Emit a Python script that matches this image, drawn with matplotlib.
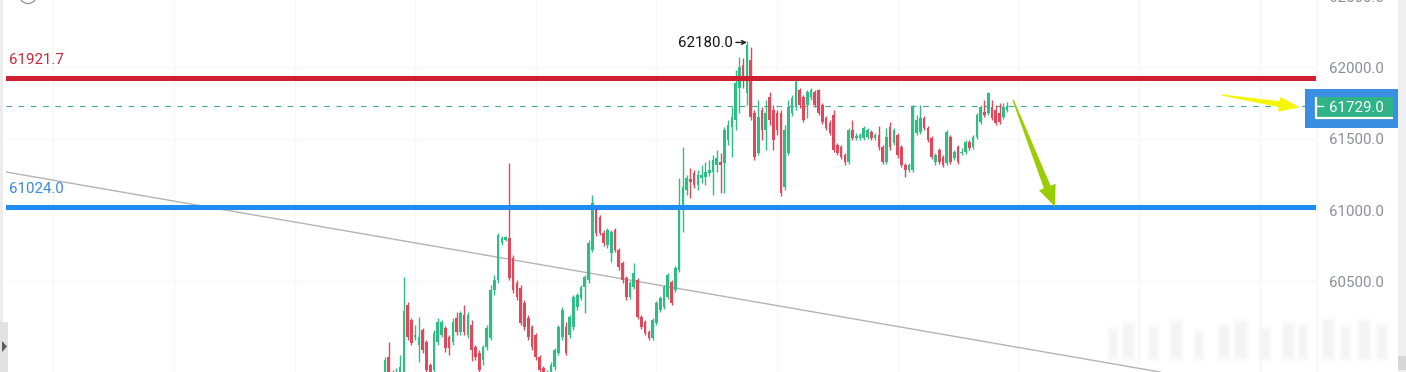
import numpy as np
import matplotlib
matplotlib.use("Agg")
import matplotlib.pyplot as plt
from matplotlib.patches import Rectangle, Polygon, Circle

plt.rcParams['font.family'] = ['Roboto', 'DejaVu Sans']

# ---------------- data (15m candles) ----------------
opens = [59866, 59971, 59845, 59775, 59810, 59866, 60335, 60230, 60111, 60055,
         60160, 60076, 59915, 59880, 60076, 60125, 60174, 60111, 60076, 60244,
         60146, 60265, 60125, 60195, 60041, 59999, 59950, 60041, 60104, 60440,
         60510, 60769, 60790, 60804, 60664, 60489, 60454, 60349, 60244, 60181,
         60125, 59971, 59894, 59796, 59866, 59901, 59999, 60111, 60181, 60125,
         60181, 60321, 60384, 60461, 60510, 60720, 61014, 60951, 60839, 60755,
         60699, 60860, 60720, 60629, 60524, 60391, 60461, 60510, 60251, 60216,
         60146, 60104, 60209, 60300, 60321, 60391, 60496, 60440, 60580, 61035,
         61140, 61217, 61259, 61175, 61224, 61231, 61259, 61266, 61315, 61336,
         61329, 61490, 61581, 61630, 61854, 62015, 61819, 62050, 61679, 61399,
         61700, 61560, 61791, 61700, 61679, 61679, 61161, 61399, 61679, 61721,
         61840, 61791, 61735, 61791, 61826, 61840, 61735, 61644, 61609, 61665,
         61455, 61441, 61385, 61336, 61560, 61504, 61504, 61504, 61511, 61546,
         61504, 61525, 61441, 61336, 61581, 61469, 61525, 61441, 61315, 61280,
         61280, 61539, 61546, 61644, 61574, 61504, 61336, 61420, 61371, 61329,
         61511, 61364, 61441, 61399, 61406, 61476, 61441, 61511, 61616, 61686,
         61679, 61721, 61700, 61679, 61651, 61700]
highs = [59971, 60076, 59880, 59894, 59985, 60531, 60356, 60244, 60195, 60251,
         60174, 60090, 59929, 60160, 60244, 60230, 60188, 60125, 60244, 60286,
         60293, 60335, 60286, 60230, 60055, 60020, 60055, 60195, 60475, 60545,
         60839, 60818, 60818, 61329, 60685, 60510, 60475, 60370, 60265, 60195,
         60139, 59985, 59908, 59880, 59936, 60034, 60195, 60321, 60216, 60265,
         60405, 60419, 60475, 60545, 60790, 61105, 61035, 60965, 60860, 60874,
         60860, 60874, 60734, 60643, 60538, 60503, 60629, 60524, 60265, 60230,
         60160, 60244, 60363, 60398, 60475, 60559, 60510, 60608, 61224, 61441,
         61245, 61294, 61280, 61280, 61315, 61336, 61350, 61385, 61420, 61399,
         61581, 61630, 61721, 61980, 62071, 62064, 62180, 62141, 61700, 61770,
         61721, 61770, 61826, 61735, 61700, 61700, 61595, 61770, 61805, 61910,
         61854, 61805, 61840, 61854, 61840, 61847, 61749, 61658, 61630, 61700,
         61469, 61455, 61399, 61574, 61630, 61539, 61539, 61588, 61574, 61560,
         61539, 61588, 61455, 61574, 61616, 61574, 61539, 61455, 61329, 61329,
         61735, 61665, 61735, 61658, 61588, 61518, 61399, 61434, 61385, 61560,
         61525, 61420, 61455, 61434, 61490, 61490, 61525, 61679, 61735, 61770,
         61826, 61770, 61735, 61749, 61749, 61756]
lows = [59838, 59810, 59740, 59740, 59775, 59810, 60090, 60055, 60090, 59936,
        59999, 59866, 59810, 59866, 60055, 60111, 60006, 59985, 60055, 60125,
        60125, 60125, 60104, 59943, 59950, 59866, 59915, 60020, 60090, 60405,
        60489, 60755, 60783, 60510, 60419, 60370, 60195, 60160, 60090, 60020,
        59950, 59859, 59775, 59775, 59838, 59880, 59985, 60090, 59985, 60104,
        60160, 60300, 60370, 60279, 60489, 60706, 60818, 60825, 60748, 60734,
        60636, 60706, 60580, 60489, 60370, 60377, 60447, 60237, 60167, 60125,
        60090, 60090, 60195, 60286, 60307, 60377, 60335, 60426, 60566, 60846,
        61105, 61084, 61154, 61140, 61189, 61175, 61238, 61105, 61266, 61119,
        61119, 61455, 61371, 61560, 61679, 61854, 61735, 61630, 61350, 61385,
        61490, 61420, 61595, 61420, 61525, 61098, 61140, 61385, 61658, 61700,
        61714, 61616, 61644, 61770, 61721, 61665, 61602, 61560, 61525, 61406,
        61385, 61357, 61315, 61322, 61490, 61490, 61490, 61490, 61497, 61490,
        61490, 61420, 61322, 61322, 61420, 61455, 61364, 61301, 61231, 61266,
        61266, 61525, 61532, 61560, 61476, 61357, 61315, 61322, 61301, 61315,
        61322, 61350, 61322, 61385, 61392, 61420, 61427, 61497, 61602, 61651,
        61665, 61630, 61595, 61602, 61637, 61686]
closes = [59950, 59845, 59810, 59866, 59901, 60293, 60111, 60069, 60125, 60111,
          60020, 59880, 59845, 60139, 60216, 60216, 60034, 60034, 60216, 60146,
          60279, 60146, 60265, 60020, 59971, 59880, 60041, 60174, 60440, 60510,
          60825, 60804, 60811, 60524, 60440, 60391, 60209, 60181, 60111, 60041,
          59971, 59880, 59810, 59852, 59915, 60020, 60181, 60300, 59999, 60251,
          60391, 60405, 60461, 60531, 60769, 61049, 60839, 60839, 60769, 60860,
          60846, 60720, 60601, 60510, 60391, 60489, 60559, 60251, 60181, 60139,
          60104, 60230, 60349, 60384, 60461, 60545, 60349, 60594, 61035, 61161,
          61224, 61196, 61175, 61245, 61245, 61266, 61280, 61350, 61364, 61315,
          61560, 61595, 61651, 61889, 62001, 61910, 62155, 61651, 61371, 61651,
          61560, 61679, 61630, 61490, 61560, 61119, 61560, 61721, 61784, 61896,
          61735, 61630, 61826, 61840, 61735, 61679, 61616, 61574, 61539, 61420,
          61399, 61371, 61336, 61560, 61504, 61518, 61525, 61574, 61560, 61504,
          61525, 61441, 61336, 61511, 61441, 61560, 61385, 61315, 61280, 61315,
          61721, 61630, 61644, 61574, 61490, 61371, 61385, 61336, 61315, 61546,
          61336, 61406, 61336, 61406, 61476, 61434, 61511, 61665, 61721, 61665,
          61819, 61644, 61609, 61616, 61721, 61729]

resistance_level = 61921.7
support_level = 61024.0
last_price = 61729.0
peak_price = 62180.0
peak_index = 96
ytick_values = [60500, 61000, 61500, 62000]
ytick_labels = ['60500.0', '61000.0', '61500.0', '62000.0']
time_grid_idx = [-88, -56, -24, 8, 40, 72, 104, 136, 168, 200, 232]
trend_x = [-100.5, 205.6]
trend_y = [61266, 59866]
target_arrow_x = [166.6, 177.7]
target_arrow_y = [61770, 61024]

UP = '#2ebd85'
DOWN = '#e0495b'

W, H = 1406, 372
fig = plt.figure(figsize=(W / 100, H / 100), dpi=100)
fig.patch.set_facecolor('white')

ax = fig.add_axes([6 / W, 0, 1310 / W, 1])
ax.set_xlim(-100.53, 246.95)
ax.set_ylim(59866, 62470)
for s in ax.spines.values():
    s.set_visible(False)
ax.set_xticks(time_grid_idx)
ax.tick_params(axis='x', length=0, labelbottom=False)
ax.set_yticks(ytick_values, ytick_labels)
ax.yaxis.tick_right()
ax.tick_params(axis='y', length=0, pad=9.5, labelsize=10.8, labelcolor='#8a909a',
               right=False, left=False, labelright=True, labelleft=False)
ax.grid(True, color='#f7f7f8', lw=1, zorder=0)

idx = np.arange(len(opens))
o = np.array(opens, float)
c = np.array(closes, float)
h = np.array(highs, float)
l = np.array(lows, float)
cols = [UP if cc >= oo else DOWN for oo, cc in zip(o, c)]
ax.vlines(idx, l, h, colors=cols, lw=1.0, zorder=3)
ax.bar(idx, np.maximum(np.abs(c - o), 4), bottom=np.minimum(o, c), width=0.7,
       color=cols, lw=0, zorder=3)

# trend line
ax.plot(trend_x, trend_y, color='#b4b4b4', lw=1.0, zorder=2)
# levels
ax.axhline(resistance_level, color='#cf1f30', lw=3.6, zorder=4)
ax.axhline(support_level, color='#1e8cf0', lw=3.6, zorder=4)
ax.axhline(last_price, color='#45a596', lw=0.8, ls=(0, (5, 6)), zorder=2)

# overlay in pixel coordinates for annotations / chrome
ov = fig.add_axes([0, 0, 1, 1], zorder=5)
ov.set_xlim(0, W)
ov.set_ylim(H, 0)
ov.axis('off')
ov.patch.set_alpha(0)

def to_px(x, y):
    d = ax.transData.transform((x, y))
    return ov.transData.inverted().transform(d)

# level labels
ov.text(8.5, 64, f'{resistance_level:.1f}', color='#c8283a', fontsize=10.8, va='baseline', ha='left')
ov.text(8.5, 192.7, f'{support_level:.1f}', color='#3a89dc', fontsize=10.8, va='baseline', ha='left')

# peak annotation
px, py = to_px(peak_index, peak_price)
ov.text(px - 69, py + 5.5, f'{peak_price:.1f}', color='#151515', fontsize=10.8, va='baseline', ha='left')
ov.annotate('', xy=(px, py + 1), xytext=(px - 11, py + 1),
            arrowprops=dict(arrowstyle='->', color='#222222', lw=1.0, shrinkA=0, shrinkB=0,
                            mutation_scale=7))

def taper_arrow(p0, p1, w0, w1, hw, hl, color):
    p0 = np.array(p0, float); p1 = np.array(p1, float)
    d = p1 - p0
    L = np.hypot(*d)
    u = d / L
    n = np.array([-u[1], u[0]])
    b = p1 - hl * u
    pts = [p0 + w0 * n, b + w1 * n, b + hw * n, p1, b - hw * n, b - w1 * n, p0 - w0 * n]
    ov.add_patch(Polygon(pts, closed=True, facecolor=color, edgecolor='none', zorder=6))

# green target arrow
t0 = to_px(target_arrow_x[0], target_arrow_y[0])
t1 = to_px(target_arrow_x[1], target_arrow_y[1])
taper_arrow(t0, t1, 0.7, 3.6, 9.0, 21, '#9acd00')

# yellow arrow to price label
taper_arrow((1222, 95), (1300, 107.5), 0.6, 3.0, 7.5, 21, '#f5f50a')

# price label
ov.add_patch(Rectangle((1305, 89), 95, 39, facecolor='#3b8fe2', edgecolor='none', zorder=6))
ov.add_patch(Rectangle((1316, 96.5), 77, 21.5, facecolor='#2fb487', edgecolor='none', zorder=7))
ov.plot([1316, 1316, 1393], [96.5, 118, 118], color='white', lw=1.6, zorder=8,
        solid_capstyle='butt')
ov.plot([1317, 1323], [106, 106], color='white', lw=1.0, zorder=8)
ov.text(1329, 111.7, f'{last_price:.1f}', color='white', fontsize=10.8, va='baseline',
        ha='left', zorder=9)

# partial top tick label (cut by the top edge, as in the source screenshot)
ov.text(1329, 1.5, '62500.0', color='#8a909a', fontsize=10.8, va='baseline', ha='left')

# axis separator
ov.plot([1317, 1317], [0, H], color='#f4f4f4', lw=1, zorder=1)

# right scrollbar
ov.add_patch(Rectangle((1398, 0), 8, H, facecolor='#efefef', edgecolor='none', zorder=6))
ov.add_patch(Rectangle((1398, 356), 8, 14, facecolor='#d6d6d6', edgecolor='none', zorder=7))

# left strip and handle
ov.add_patch(Rectangle((0, 0), 3, H, facecolor='#ededed', edgecolor='none', zorder=6))
ov.add_patch(Rectangle((0, 322), 8, 50, facecolor='#e2e2e2', edgecolor='none', zorder=7))
ov.add_patch(Polygon([(2, 341), (2, 352), (7, 346.5)], closed=True, facecolor='#5a5a5a',
                     edgecolor='none', zorder=8))

# top-left icon (partially visible)
ov.add_patch(Circle((28, -5), 8.5, facecolor='none', edgecolor='#9a9a9a', lw=1.0, zorder=6))

# faint blurred watermark bars at bottom right
wm_x = [1110, 1124, 1150, 1172, 1196, 1220, 1236, 1262, 1284, 1300, 1324, 1342, 1360, 1378]
wm_w = [6, 9, 7, 9, 6, 8, 10, 7, 9, 6, 9, 7, 9, 8]
wm_t = [330, 324, 328, 322, 332, 326, 322, 330, 324, 326, 320, 328, 322, 326]
for xx, ww, tt in zip(wm_x, wm_w, wm_t):
    for k, (grow, a) in enumerate([(3, 0.35), (0, 0.6)]):
        ov.add_patch(Rectangle((xx - grow, tt - grow), ww + 2 * grow, 358 - tt + 2 * grow,
                               facecolor='#f1f1f1', edgecolor='none', alpha=a, zorder=1))

fig.savefig('out.png', dpi=100, facecolor='white')
